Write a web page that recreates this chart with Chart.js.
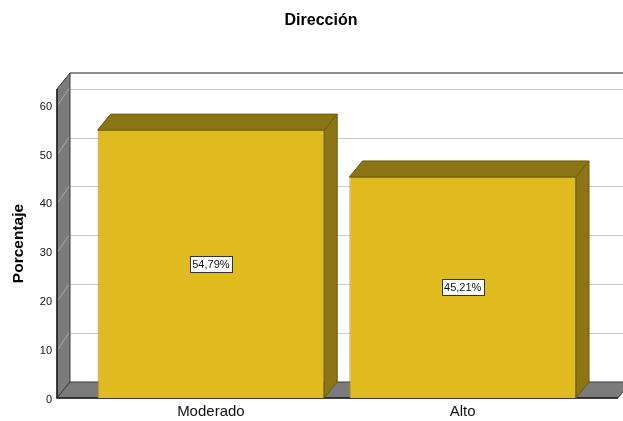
<!DOCTYPE html>
<html>
<head>
<meta charset="utf-8">
<script src="https://cdn.jsdelivr.net/npm/chart.js@4"></script>
<style>
  html, body { margin: 0; padding: 0; background: #fff; }
  #wrap { width: 623px; height: 421px; position: relative; }
</style>
</head>
<body>
<div id="wrap"><canvas id="c"></canvas></div>
<script>
// Data
const categories = ['Moderado', 'Alto'];
const percentages = [54.79, 45.21];
const yTickValues = [0, 10, 20, 30, 40, 50, 60];
const yMax = 63.2;
const chartTitle = 'Dirección';
const yAxisTitle = 'Porcentaje';

// 3D look: depth offset of walls and bars
const DEPTH_X = 13;
const DEPTH_Y = 16;
const FONT = '"Liberation Sans", Arial, Helvetica, sans-serif';

const fmtPct = v => v.toFixed(2).replace('.', ',') + '%';

function poly(ctx, pts, fill, stroke, lw) {
  ctx.beginPath();
  ctx.moveTo(pts[0][0], pts[0][1]);
  for (let i = 1; i < pts.length; i++) ctx.lineTo(pts[i][0], pts[i][1]);
  ctx.closePath();
  if (fill) { ctx.fillStyle = fill; ctx.fill(); }
  if (stroke) { ctx.strokeStyle = stroke; ctx.lineWidth = lw || 1; ctx.stroke(); }
}

const box3d = {
  id: 'box3d',
  beforeDatasetsDraw(chart) {
    const { ctx, chartArea: a, scales: { y } } = chart;
    const W = chart.width;
    const ax = a.left - 28;          // front vertical axis
    const floorRight = 618;          // front right end of the floor
    const yb = y.getPixelForValue(0);
    const yt = y.getPixelForValue(yMax);
    ctx.save();

    // back wall gridlines
    ctx.strokeStyle = '#c9c9c9';
    ctx.lineWidth = 1;
    yTickValues.forEach(v => {
      if (v === 0) return;
      const p = Math.round(y.getPixelForValue(v) - DEPTH_Y) + 0.5;
      ctx.beginPath();
      ctx.moveTo(ax + DEPTH_X, p);
      ctx.lineTo(W, p);
      ctx.stroke();
    });

    // back wall top edge
    ctx.strokeStyle = '#6a6a6a';
    ctx.lineWidth = 1.5;
    ctx.beginPath();
    ctx.moveTo(ax + DEPTH_X, yt - DEPTH_Y);
    ctx.lineTo(W, yt - DEPTH_Y);
    ctx.stroke();

    // left wall
    poly(ctx, [[ax, yb], [ax, yt], [ax + DEPTH_X, yt - DEPTH_Y], [ax + DEPTH_X, yb - DEPTH_Y]],
      '#7b7b7b', '#3c3c3c', 1);

    // gridline continuations on the left wall
    ctx.strokeStyle = '#a9a9a9';
    ctx.lineWidth = 1;
    yTickValues.forEach(v => {
      if (v === 0) return;
      const p = y.getPixelForValue(v);
      ctx.beginPath();
      ctx.moveTo(ax + 1, p);
      ctx.lineTo(ax + DEPTH_X - 1, p - DEPTH_Y);
      ctx.stroke();
    });

    // floor
    poly(ctx, [[ax, yb], [floorRight, yb], [floorRight + DEPTH_X, yb - DEPTH_Y], [ax + DEPTH_X, yb - DEPTH_Y]],
      '#7b7b7b', '#3c3c3c', 1);

    // front axis lines
    ctx.strokeStyle = '#222';
    ctx.lineWidth = 1.5;
    ctx.beginPath();
    ctx.moveTo(ax, yt);
    ctx.lineTo(ax, yb);
    ctx.lineTo(floorRight, yb);
    ctx.stroke();
    ctx.restore();
  },
  afterDatasetsDraw(chart) {
    const { ctx } = chart;
    const meta = chart.getDatasetMeta(0);
    ctx.save();
    meta.data.forEach((bar, i) => {
      const { x, y, base, width } = bar.getProps(['x', 'y', 'base', 'width'], true);
      const l = x - width / 2, r = x + width / 2;
      // top face
      poly(ctx, [[l, y], [r, y], [r + DEPTH_X, y - DEPTH_Y], [l + DEPTH_X, y - DEPTH_Y]],
        '#8b7514', '#6c5b0e', 1);
      // side face
      poly(ctx, [[r, y], [r + DEPTH_X, y - DEPTH_Y], [r + DEPTH_X, base - DEPTH_Y], [r, base]],
        '#8b7514', '#6c5b0e', 1);

      // value label
      const txt = fmtPct(percentages[i]);
      ctx.font = '11px ' + FONT;
      const tw = ctx.measureText(txt).width;
      const bw = Math.round(tw + 5), bh = 16;
      const cy = (y + base) / 2;
      const bx = Math.round(x - bw / 2) + 0.5, by = Math.round(cy - bh / 2) + 0.5;
      ctx.fillStyle = '#fff';
      ctx.fillRect(bx, by, bw, bh);
      ctx.strokeStyle = '#333';
      ctx.lineWidth = 1;
      ctx.strokeRect(bx, by, bw, bh);
      ctx.fillStyle = '#111';
      ctx.textAlign = 'center';
      ctx.textBaseline = 'middle';
      ctx.fillText(txt, x, by + bh / 2 + 0.5);
    });
    ctx.restore();
  },
  afterDraw(chart) {
    // chart title
    const { ctx } = chart;
    ctx.save();
    ctx.font = 'bold 16px ' + FONT;
    ctx.fillStyle = '#000';
    ctx.textAlign = 'center';
    ctx.textBaseline = 'middle';
    ctx.fillText(chartTitle, 321, 21);
    ctx.restore();
  }
};

new Chart(document.getElementById('c'), {
  type: 'bar',
  data: {
    labels: categories,
    datasets: [{
      data: percentages,
      backgroundColor: '#e0bb1f',
      borderColor: '#a88d17',
      borderWidth: 1,
      barPercentage: 0.9,
      categoryPercentage: 1.0
    }]
  },
  options: {
    responsive: true,
    maintainAspectRatio: false,
    animation: false,
    layout: { padding: { left: 0, right: 34.4, top: 89, bottom: 0 } },
    plugins: {
      legend: { display: false },
      tooltip: { enabled: false },
      title: { display: false }
    },
    scales: {
      x: {
        grid: { display: false, drawTicks: false },
        border: { display: false },
        ticks: { color: '#111', font: { family: FONT, size: 15 }, padding: 5 },
        afterFit(s) { s.height = 23; }
      },
      y: {
        min: 0,
        max: yMax,
        grid: { display: false, drawTicks: false },
        border: { display: false },
        afterBuildTicks(s) { s.ticks = yTickValues.map(v => ({ value: v })); },
        ticks: { color: '#111', font: { family: FONT, size: 11 }, padding: 33, labelOffset: 2 },
        title: {
          display: true,
          text: yAxisTitle,
          color: '#000',
          font: { family: FONT, size: 15.5, weight: 'bold' },
          padding: { top: 9, bottom: 0 }
        },
        afterFit(s) {
          s.width = 85;
          s.paddingTop = 0;
          s.paddingBottom = 0;
        }
      }
    }
  },
  plugins: [box3d]
});
</script>
</body>
</html>
